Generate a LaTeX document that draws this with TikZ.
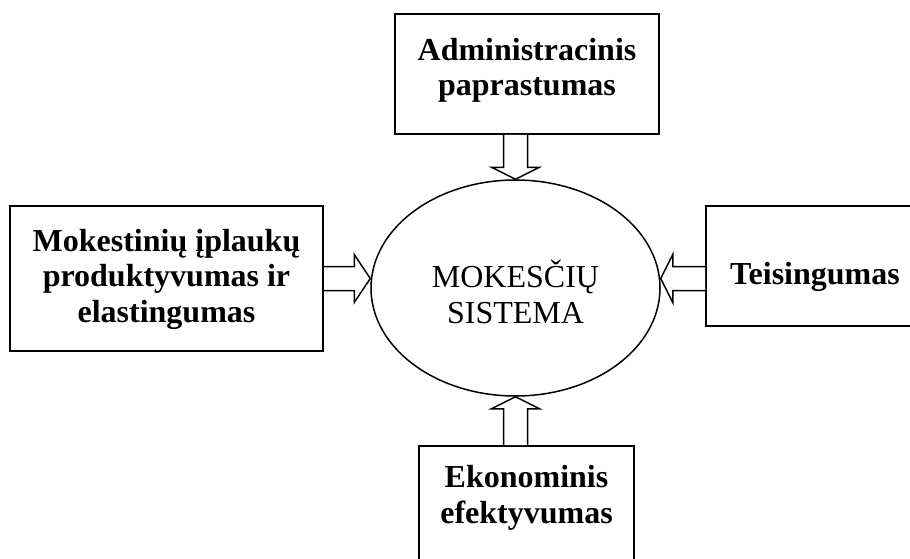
\documentclass[tikz,border=0pt]{standalone}
\usepackage{fontspec}
\setmainfont{Liberation Serif}
\usetikzlibrary{calc,shapes.geometric}

% block arrow: #1 head length, #2 tail point, #3 tip point
\newcommand\blockarrow[3]{%
  \coordinate (hb) at ($(#3)!#1!(#2)$);
  \draw[arrowline]
    ($(#2)!12pt!90:(#3)$) -- ($(hb)!12pt!-90:(#2)$) -- ($(hb)!24pt!-90:(#2)$)
    -- (#3)
    -- ($(hb)!24pt!90:(#2)$) -- ($(hb)!12pt!90:(#2)$) -- ($(#2)!12pt!-90:(#3)$);
}

\tikzset{
  factor/.style={draw, line width=2pt, rectangle, inner sep=0pt, align=center,
    font=\fontsize{32}{35.5}\selectfont\bfseries},
  core/.style={draw, line width=1.5pt, ellipse, inner sep=0pt, align=center,
    minimum width=289pt, minimum height=216pt,
    font=\fontsize{32}{36}\selectfont},
  arrowline/.style={line width=1.5pt, line join=miter, fill=white},
}

\begin{document}
\begin{tikzpicture}[x=1pt, y=-1pt]
  \useasboundingbox[fill=white] (0,0) rectangle (910,559);

  \node[core, text height=72pt, text depth=2pt] (sys) at (515.5,288)
    {MOKESČIŲ\\SISTEMA};

  \node[factor, minimum width=264pt, minimum height=120pt,
        text height=50pt, text depth=6pt] (adm) at (527,74)
    {Administracinis\\paprastumas};
  \node[factor, minimum width=313pt, minimum height=145pt,
        text height=92pt, text depth=5pt] (mok) at (166.5,278.5)
    {Mokestinių įplaukų\\produktyvumas ir\\elastingumas};
  \node[factor, minimum width=218pt, minimum height=120pt,
        text height=40pt, text depth=4pt] (teis) at (815,266)
    {Teisingumas};
  \node[factor, minimum width=215pt, minimum height=120pt,
        text height=40pt, text depth=6pt] (eko) at (526.5,506)
    {Ekonominis\\efektyvumas};

  \coordinate (tA) at (sys.north |- adm.south);
  \coordinate (tM) at (mok.east);
  \coordinate (hM) at (sys.west |- mok.east);
  \coordinate (tT) at (teis.west |- mok.east);
  \coordinate (hT) at (sys.east |- mok.east);
  \coordinate (tE) at (sys.south |- eko.north);

  \blockarrow{12pt}{tA}{sys.north}
  \blockarrow{16pt}{tM}{hM}
  \blockarrow{12pt}{tT}{hT}
  \blockarrow{12pt}{tE}{sys.south}
\end{tikzpicture}
\end{document}
